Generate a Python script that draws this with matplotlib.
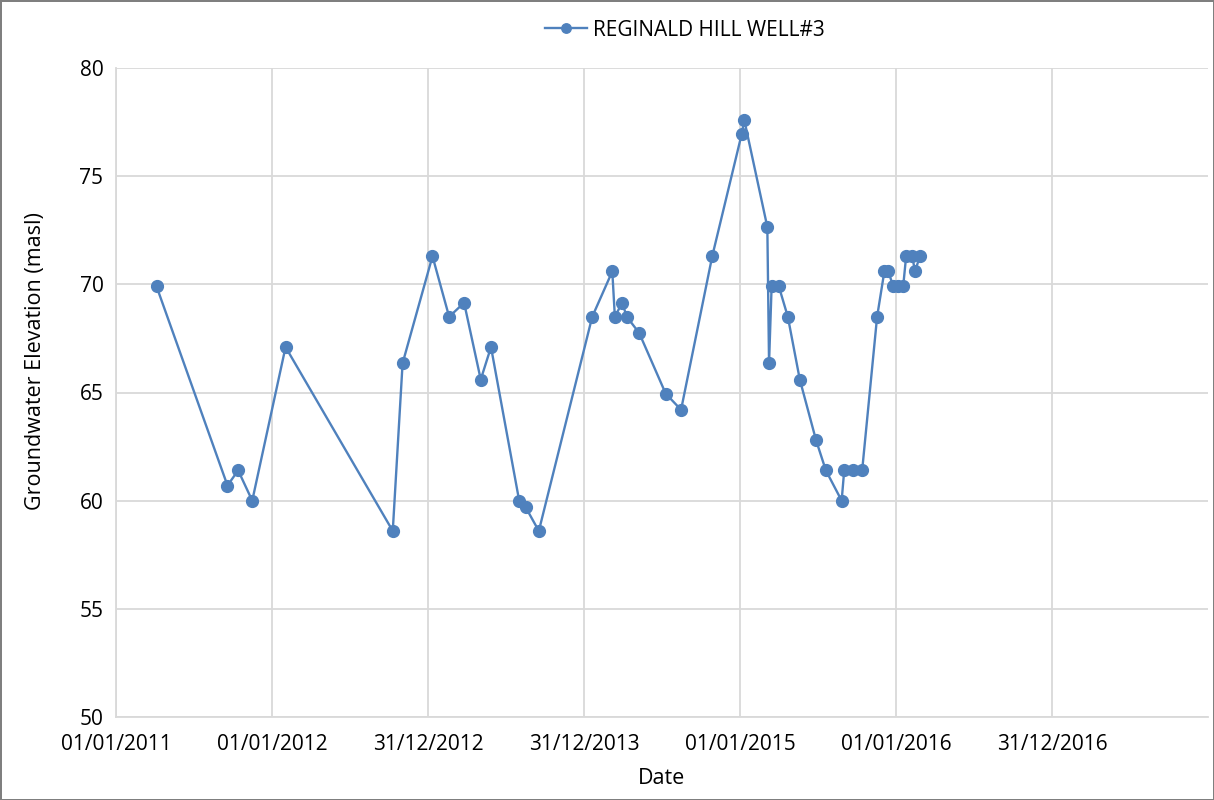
import matplotlib
matplotlib.use('Agg')
import matplotlib.pyplot as plt
import matplotlib.dates as mdates
import numpy as np
from datetime import datetime

# Datos
fechas = ['2011-04-06', '2011-09-19', '2011-10-14', '2011-11-16', '2012-02-02',
          '2012-10-10', '2012-11-02', '2013-01-11', '2013-02-19', '2013-03-26',
          '2013-05-04', '2013-05-28', '2013-08-02', '2013-08-17', '2013-09-17',
          '2014-01-20', '2014-03-08', '2014-03-14', '2014-03-31', '2014-04-11',
          '2014-05-10', '2014-07-11', '2014-08-16', '2014-10-28', '2015-01-05',
          '2015-01-11', '2015-03-06', '2015-03-10', '2015-03-16', '2015-04-02',
          '2015-04-23', '2015-05-21', '2015-06-28', '2015-07-21', '2015-08-27',
          '2015-09-02', '2015-09-23', '2015-10-14', '2015-11-18', '2015-12-05',
          '2015-12-14', '2015-12-26', '2016-01-06', '2016-01-18', '2016-01-25',
          '2016-02-08', '2016-02-15', '2016-02-26']
elevacion = [69.9, 60.7, 61.4, 60.0, 67.1,
             58.6, 66.35, 71.3, 68.5, 69.15,
             65.6, 67.1, 60.0, 59.7, 58.6,
             68.5, 70.6, 68.5, 69.15, 68.5,
             67.75, 64.95, 64.2, 71.3, 76.95,
             77.6, 72.65, 66.35, 69.9, 69.9,
             68.5, 65.6, 62.8, 61.4, 60.0,
             61.4, 61.4, 61.4, 68.5, 70.6,
             70.6, 69.9, 69.9, 69.9, 71.3,
             71.3, 70.6, 71.3]
etiqueta_serie = 'REGINALD HILL WELL#3'

# Eje de fechas tipo Excel: unidad mayor de 365.25 dias
inicio = datetime(2011, 1, 1)
unidad = 365.25
n_ticks = 7

x = [datetime.strptime(f, '%Y-%m-%d') for f in fechas]
azul = '#4f81bd'
gris_grid = '#d9d9d9'
fuente = 'Open Sans'

fig = plt.figure(figsize=(12.14, 8), dpi=100)
fig.patch.set_edgecolor('#7f7f7f')
fig.patch.set_linewidth(2)
ax = fig.add_axes([116/1214, 83/800, 1092/1214, 649/800])

ax.plot(x, elevacion, color=azul, lw=1.7, marker='o', ms=8.5,
        markeredgecolor=azul, markerfacecolor=azul, label=etiqueta_serie)

x0 = mdates.date2num(inicio)
ticks = [x0 + k*unidad for k in range(n_ticks + 1)]
ax.set_xlim(ticks[0], ticks[-1])
ax.set_xticks(ticks[:-1])
ax.xaxis.set_major_formatter(mdates.DateFormatter('%d/%m/%Y'))
ax.set_ylim(50, 80)
ax.set_yticks(np.arange(50, 81, 5))

ax.grid(True, color=gris_grid, lw=1.3)
ax.set_axisbelow(True)
for lado in ['top', 'right']:
    ax.spines[lado].set_visible(False)
for lado in ['left', 'bottom']:
    ax.spines[lado].set_color(gris_grid)
    ax.spines[lado].set_linewidth(1.3)
ax.tick_params(length=0, labelsize=15, colors='#000000')
ax.tick_params(axis='x', pad=12)
ax.tick_params(axis='y', pad=9)
for t in ax.get_xticklabels() + ax.get_yticklabels():
    t.set_fontfamily(fuente)

# Titulos de ejes colocados a mano
fig.text(36/1214, 1 - 361/800, 'Groundwater Elevation (masl)', rotation=90,
         ha='center', va='center', fontsize=15.5, fontfamily=fuente)
fig.text(662/1214, 1 - 778/800, 'Date', ha='center', va='center',
         fontsize=15.5, fontfamily=fuente)

h, l = ax.get_legend_handles_labels()
fig.legend(h, l, loc='center', bbox_to_anchor=(685/1214, 1 - 30/800), frameon=False,
           prop={'family': fuente, 'size': 15}, handlelength=2.0, handletextpad=0.3,
           markerscale=0.8)

fig.savefig('out.png', dpi=100, edgecolor=fig.get_edgecolor())
